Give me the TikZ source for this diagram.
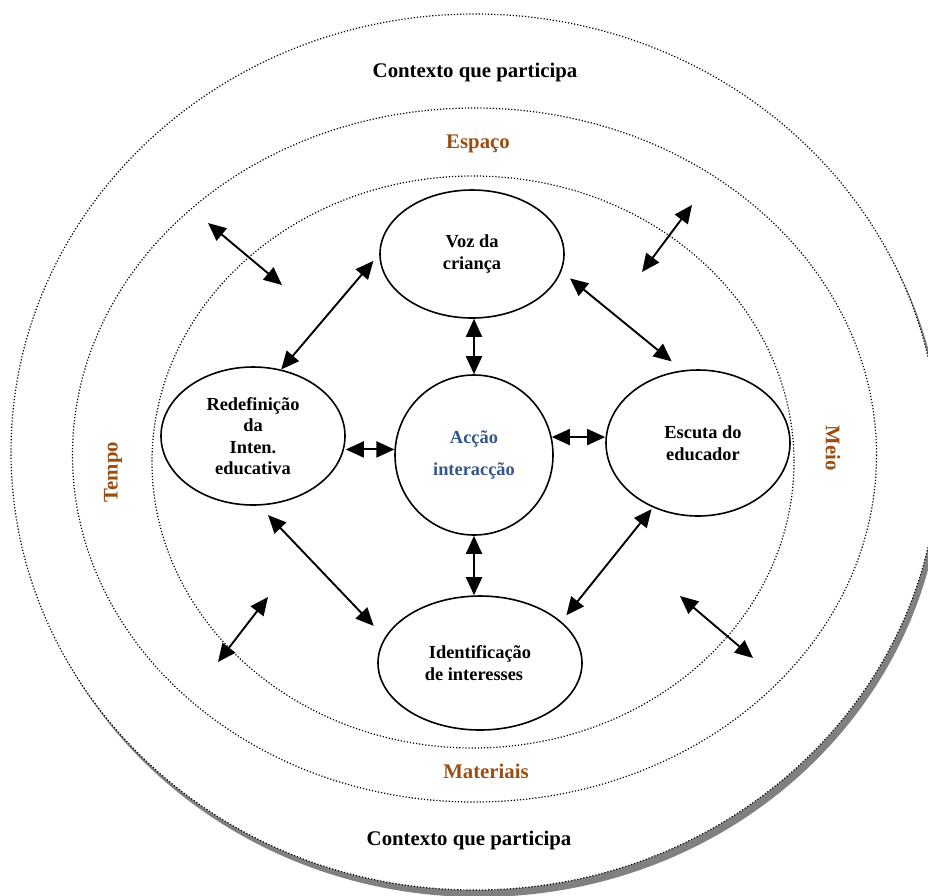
\documentclass[tikz,border=0pt]{standalone}
\usepackage{fontspec}
\setmainfont{Liberation Serif}
\usetikzlibrary{shapes.geometric,arrows.meta,calc}
\definecolor{brownlbl}{RGB}{156,78,18}
\definecolor{bluelbl}{RGB}{52,86,140}
\definecolor{shadowgray}{RGB}{128,128,128}
\begin{document}
\begin{tikzpicture}[x=1pt,y=-1pt,
  ring/.style={line width=1.2pt, dash pattern=on 1.2pt off 1.9pt},
  bubble/.style={ellipse, draw, line width=1.6pt, inner sep=0pt, align=center,
    font=\fontsize{18.4}{21.5}\selectfont\bfseries},
  dbl/.style={line width=1.9pt, {Triangle[length=18pt,width=16pt]}-{Triangle[length=18pt,width=16pt]}},
  lbl/.style={font=\fontsize{20.8}{24}\selectfont\bfseries, inner sep=0pt},
]
\useasboundingbox (0,0) rectangle (928,895);
\clip (0,0) rectangle (928,895);
% rings
\fill[shadowgray] (479,459) ellipse [x radius=464, y radius=438];
\draw[ring, fill=white] (475,452) ellipse [x radius=464, y radius=438];
\draw[ring] (474.5,455) ellipse [x radius=402, y radius=347];
\draw[ring] (473,462) ellipse [x radius=321, y radius=286];
% labels
\node[lbl] (ctop) at (475,72) {Contexto que participa};
\node[lbl, text=brownlbl] (espaco) at (478,144) {Espaço};
\node[lbl, text=brownlbl] (mat) at (486,771) {Materiais};
\node[lbl] (cbot) at (469,840) {Contexto que participa};
\node[lbl, text=brownlbl, rotate=90] (tempo) at (113,472) {Tempo};
\node[lbl, text=brownlbl, rotate=-90] (meio) at (833,448) {Meio};
% bubbles
\node[bubble, minimum width=184pt, minimum height=128pt] (voz) at (472,254) {Voz da\\criança};
\node[bubble, minimum width=158pt, minimum height=160pt, text=bluelbl,
  font=\fontsize{18.4}{32}\selectfont\bfseries] (acc) at (474,455) {Acção\\interacção};
\node[bubble, minimum width=184pt, minimum height=138pt] (redef) at (253,436) {Redefinição\\da\\Inten.\\educativa};
\node[bubble, minimum width=184pt, minimum height=146pt] (esc) at (698,443) {\hspace*{10pt}Escuta do\\\hspace*{10pt}educador};
\node[bubble, minimum width=204pt, minimum height=134pt] (ident) at (480,663) {Identificação\\de interesses\hspace*{12pt}};
% connectors
\draw[dbl, shorten >=9pt] (redef.67) -- (voz.180);
\draw[dbl, shorten <=11pt, shorten >=14pt] (voz.-11) -- (esc.102);
\draw[dbl] (acc.north) -- (acc.north |- voz.south);
\draw[dbl] (acc.176) -- (acc.176 -| redef.east);
\draw[dbl] (acc.13) -- (acc.13 -| esc.west);
\draw[dbl] (acc.south) -- (acc.south |- ident.north);
\draw[dbl, shorten <=13pt, shorten >=16pt] (redef.-85) -- (ident.165);
\draw[dbl, shorten <=2pt, shorten >=8pt] (esc.235) -- (ident.27);
% loose arrows across the inner ring
\coordinate (l1a) at (208,223); \coordinate (l1b) at (282,285);
\coordinate (l2a) at (692,205); \coordinate (l2b) at (642,272);
\coordinate (l3a) at (268,597); \coordinate (l3b) at (218,662);
\coordinate (l4a) at (680,596); \coordinate (l4b) at (753,658);
\draw[dbl] (l1a) -- (l1b);
\draw[dbl] (l2a) -- (l2b);
\draw[dbl] (l3a) -- (l3b);
\draw[dbl] (l4a) -- (l4b);
\end{tikzpicture}
\end{document}
